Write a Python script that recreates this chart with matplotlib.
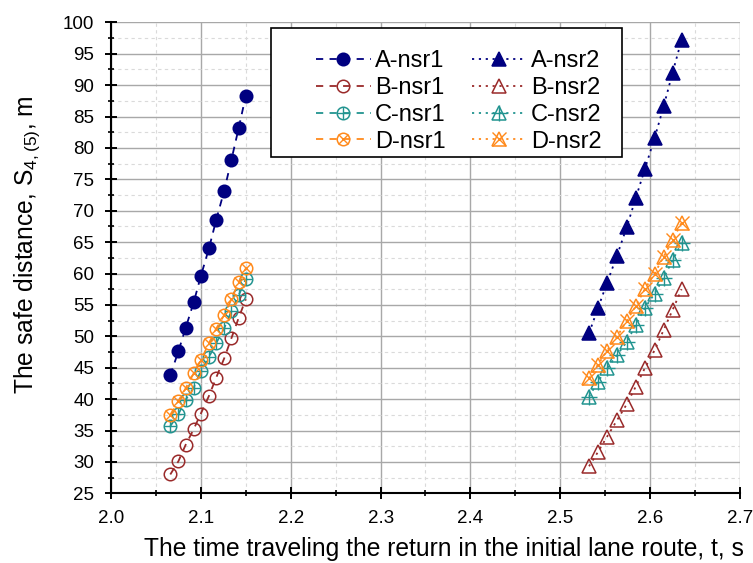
import matplotlib
matplotlib.use("Agg")
import matplotlib.pyplot as plt
from matplotlib.patches import Rectangle
from matplotlib.legend_handler import HandlerTuple
from matplotlib.ticker import MultipleLocator, FormatStrFormatter

plt.rcParams['font.family'] = ['Liberation Sans', 'DejaVu Sans']
plt.rcParams['mathtext.default'] = 'regular'

# time values (s) for the two return-time regimes
t_nsr1 = [2.066, 2.075, 2.083, 2.092, 2.100, 2.109, 2.117, 2.126, 2.134, 2.142, 2.150]
t_nsr2 = [2.532, 2.542, 2.552, 2.563, 2.574, 2.584, 2.594, 2.605, 2.615, 2.625, 2.635]

# safe distance S4,(5) (m)
A_nsr1 = [43.8, 47.6, 51.3, 55.4, 59.6, 64.0, 68.5, 73.2, 78.1, 83.1, 88.3]
B_nsr1 = [28.0, 30.1, 32.7, 35.2, 37.7, 40.5, 43.4, 46.5, 49.7, 52.9, 55.9]
C_nsr1 = [35.7, 37.6, 39.9, 41.8, 44.5, 46.7, 48.9, 51.3, 54.0, 56.5, 59.1]
D_nsr1 = [37.5, 39.7, 41.7, 44.1, 46.2, 48.9, 51.2, 53.4, 55.9, 58.6, 60.8]

A_nsr2 = [50.5, 54.5, 58.5, 62.8, 67.4, 72.0, 76.6, 81.6, 86.6, 92.0, 97.2]
B_nsr2 = [29.3, 31.6, 34.0, 36.6, 39.2, 42.0, 44.9, 47.8, 51.0, 54.2, 57.5]
C_nsr2 = [40.4, 42.8, 44.9, 47.0, 49.1, 51.8, 54.5, 56.8, 59.3, 62.1, 64.9]
D_nsr2 = [43.3, 45.5, 47.7, 49.9, 52.5, 54.8, 57.5, 60.0, 62.7, 65.3, 68.1]

labels = ['A-nsr1', 'B-nsr1', 'C-nsr1', 'D-nsr1', 'A-nsr2', 'B-nsr2', 'C-nsr2', 'D-nsr2']

NAVY = '#000080'
RED = '#9A2A2A'
TEAL = '#229490'
ORANGE = '#FF8A1C'

fig = plt.figure(figsize=(7.53, 5.63), dpi=100)
ax = fig.add_axes([111 / 753, 1 - 493.3 / 563, 629 / 753, 471 / 563])

lw = 1.3
dash = (0, (4, 3.5))
dot = (0, (1.2, 2.6))


def series(x, y, color, ls, marker, ms, filled, overlay=None, ov_ms=None):
    fc = color if filled else 'none'
    main, = ax.plot(x, y, color=color, ls=ls, lw=lw, marker=marker, ms=ms,
                    mfc=fc, mec=color, mew=1.1, zorder=3)
    parts = [main]
    if overlay is not None:
        extra, = ax.plot(x, y, ls='none', marker=overlay, ms=ov_ms or ms,
                         mec=color, mew=1.0, zorder=3)
        parts.append(extra)
    return tuple(parts)


h = []
h.append(series(t_nsr1, A_nsr1, NAVY, dash, 'o', 9, True))
h.append(series(t_nsr1, B_nsr1, RED, dash, 'o', 9, False))
h.append(series(t_nsr1, C_nsr1, TEAL, dash, 'o', 9, False, '+', 9))
h.append(series(t_nsr1, D_nsr1, ORANGE, dash, 'o', 9, False, 'x', 6.5))
h.append(series(t_nsr2, A_nsr2, NAVY, dot, '^', 10, True))
h.append(series(t_nsr2, B_nsr2, RED, dot, '^', 10, False))
h.append(series(t_nsr2, C_nsr2, TEAL, dot, '^', 10, False, '+', 12))
h.append(series(t_nsr2, D_nsr2, ORANGE, dot, '^', 10, False, 'x', 10))

ax.set_xlim(2.0, 2.7)
ax.set_ylim(25, 100)
ax.xaxis.set_major_locator(MultipleLocator(0.1))
ax.xaxis.set_minor_locator(MultipleLocator(0.05))
ax.yaxis.set_major_locator(MultipleLocator(5))
ax.yaxis.set_minor_locator(MultipleLocator(2.5))
ax.xaxis.set_major_formatter(FormatStrFormatter('%.1f'))

ax.grid(which='major', color='#A8A8A8', lw=1.0, ls='-', zorder=0)
ax.grid(which='minor', color='#DADADA', lw=0.8, ls=(0, (3, 3)), zorder=0)
ax.set_axisbelow(True)

for s in ('top', 'right'):
    ax.spines[s].set_visible(False)
for s in ('left', 'bottom'):
    ax.spines[s].set_linewidth(1.5)
    ax.spines[s].set_color('black')

ax.tick_params(which='major', direction='inout', length=8, width=1.4,
               labelsize=13.5)
ax.tick_params(axis='x', which='major', pad=8)
ax.tick_params(axis='y', which='major', pad=8)
ax.tick_params(which='minor', direction='inout', length=5, width=1.2)

fig.text(443.5 / 753, 1 - 549 / 563,
         'The time traveling the return in the initial lane route, t, s',
         ha='center', va='center', fontsize=17.7)
fig.text(27 / 753, 1 - 245 / 563, 'The safe distance, S$_{4,(5)}$, m',
         ha='center', va='center', rotation=90, fontsize=17.7)

# legend box
ax.add_patch(Rectangle((0.2544, 0.7147), 0.5585, 0.2723, transform=ax.transAxes,
                       facecolor='white', edgecolor='black', lw=1.2, zorder=4))
leg = ax.legend(h, labels,
                handler_map={tuple: HandlerTuple(ndivide=1)},
                loc='center', bbox_to_anchor=(0.553, 0.832), ncol=2,
                frameon=False, fontsize=17, handlelength=2.3, handletextpad=0.2,
                columnspacing=1.1, labelspacing=0.2, borderpad=0)
leg.set_zorder(5)

fig.savefig('out.png', dpi=100)
